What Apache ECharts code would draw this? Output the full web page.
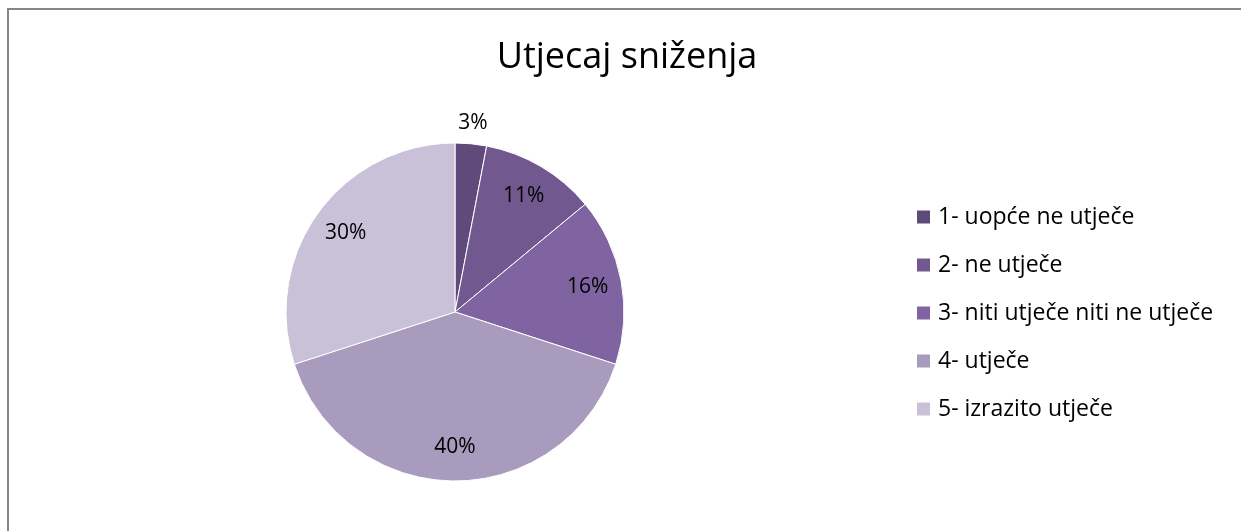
<!DOCTYPE html>
<html>
<head>
<meta charset="utf-8" />
<title>Utjecaj sniženja</title>
<script src="https://cdn.jsdelivr.net/npm/echarts@6/dist/echarts.min.js"></script>
<style>
	html, body { margin: 0; padding: 0; background: #fff; }
	#main { width: 1241px; height: 531px; }
</style>
</head>
<body>
<div id="main"></div>
<script>
	// data
	var categories = ['1- uopće ne utječe', '2- ne utječe', '3- niti utječe niti ne utječe', '4- utječe', '5- izrazito utječe'];
	var values = [3, 11, 16, 40, 30];
	var colors = ['#604a7b', '#71588f', '#8064a2', '#a99bbd', '#c9c1d7'];

	var font = '"Open Sans", "Noto Sans", sans-serif';

	var pieData = categories.map(function (name, i) {
		return { name: name, value: values[i], itemStyle: { color: colors[i] } };
	});

	// inside labels for the bigger slices, the small one sits outside
	var innerLabels = categories.map(function (name, i) {
		return { name: name, value: values[i], label: { show: i > 0 } };
	});
	var outerLabels = categories.map(function (name, i) {
		return { name: name, value: values[i], label: { show: i === 0 } };
	});

	var labelStyle = {
		position: 'inside',
		formatter: '{d}%',
		fontFamily: font,
		fontSize: 21,
		color: '#000'
	};

	var myChart = echarts.init(document.getElementById('main'));
	var option = {
		animation: false,
		title: {
			text: 'Utjecaj sniženja',
			left: 627,
			top: 40,
			padding: 0,
			textAlign: 'center',
			textStyle: { fontFamily: font, fontSize: 36, fontWeight: 'normal', color: '#000' }
		},
		graphic: [{
			type: 'rect',
			shape: { x: 8, y: 9, width: 1400, height: 700 },
			style: { fill: 'none', stroke: '#868686', lineWidth: 2 }
		}],
		legend: {
			orient: 'vertical',
			left: 915,
			top: 205,
			padding: 0,
			icon: 'rect',
			itemWidth: 15,
			itemHeight: 15,
			itemGap: 24,
			data: categories,
			textStyle: { fontFamily: font, fontSize: 23, lineHeight: 24, color: '#000', padding: [0, 0, 0, 2] }
		},
		series: [{
			name: 'Utjecaj sniženja',
			type: 'pie',
			center: [455, 312],
			radius: 169,
			startAngle: 90,
			clockwise: true,
			label: { show: false },
			labelLine: { show: false },
			itemStyle: { borderColor: '#fff', borderWidth: 1 },
			data: pieData
		}, {
			type: 'pie',
			silent: true,
			center: [455, 312],
			radius: [95, 169],
			startAngle: 90,
			itemStyle: { color: 'rgba(0,0,0,0)' },
			label: labelStyle,
			labelLine: { show: false },
			data: innerLabels
		}, {
			type: 'pie',
			silent: true,
			center: [455, 312],
			radius: [169, 205],
			startAngle: 90,
			itemStyle: { color: 'rgba(0,0,0,0)' },
			label: labelStyle,
			labelLine: { show: false },
			data: outerLabels
		}]
	};
	myChart.setOption(option);
</script>
</body>
</html>
